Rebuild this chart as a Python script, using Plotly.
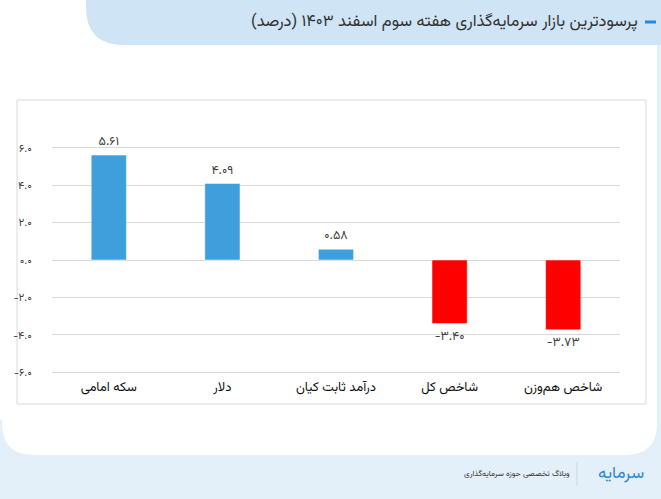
import plotly.graph_objects as go

# ---------------- data ----------------
categories = ["سکه امامی", "دلار", "درآمد ثابت کیان", "شاخص کل", "شاخص هم‌وزن"]
values = [5.61, 4.09, 0.58, -3.40, -3.73]
value_labels = ["۵.۶۱", "۴.۰۹", "۰.۵۸", "-۳.۴۰", "-۳.۷۳"]
tick_values = [-6, -4, -2, 0, 2, 4, 6]
tick_labels = ["-۶.۰", "-۴.۰", "-۲.۰", "۰.۰", "۲.۰", "۴.۰", "۶.۰"]
title_text = "پرسودترین بازار سرمایه‌گذاری هفته سوم اسفند ۱۴۰۳ (درصد)"
footer_text = "وبلاگ تخصصی حوزه سرمایه‌گذاری"
logo_text = "سرمایه"

W, H = 661, 499
L, R, T, B = 52, 620, 145, 375  # plot area in px

def px(x):
    return (x - L) / (R - L)

def py(y):
    return (B - y) / (B - T)

colors = ["#3f9fdc" if v >= 0 else "#ff0000" for v in values]
positions = ["outside"] * len(values)

FONT = "Vazirmatn, 'Noto Sans', 'DejaVu Sans', sans-serif"

fig = go.Figure()
fig.add_trace(go.Bar(
    x=categories, y=values, marker=dict(color=colors, line=dict(color="white", width=0.5)),
    text=value_labels, textposition=positions, texttemplate="%{text}",
    textfont=dict(size=12.5, color="#404040", family=FONT),
    cliponaxis=False, hoverinfo="skip",
))

header_col = "#cfe4f5"
footer_col = "#e3eff9"

shapes = []
shapes.append(dict(type="rect", xref="paper", yref="paper", x0=px(0), x1=px(W), y0=py(420), y1=py(H),
                   fillcolor=footer_col, line=dict(width=0), layer="below"))
shapes.append(dict(type="rect", xref="paper", yref="paper", x0=px(656), x1=px(W), y0=py(45), y1=py(460),
                   fillcolor=footer_col, line=dict(width=0), layer="below"))
r = 32
card = (f"M {px(2)},{py(45)} L {px(657)},{py(45)} L {px(657)},{py(455-r)} "
        f"Q {px(657)},{py(455)} {px(657-r)},{py(455)} L {px(2+r)},{py(455)} "
        f"Q {px(2)},{py(455)} {px(2)},{py(455-r)} Z")
shapes.append(dict(type="path", xref="paper", yref="paper", path=card,
                   fillcolor="white", line=dict(width=0), layer="below"))
hr = 38
head = (f"M {px(86)},{py(0)} L {px(W)},{py(0)} L {px(W)},{py(45)} L {px(86+hr)},{py(45)} "
        f"Q {px(86)},{py(45)} {px(86)},{py(45-hr)} Z")
shapes.append(dict(type="path", xref="paper", yref="paper", path=head,
                   fillcolor=header_col, line=dict(width=0), layer="below"))
shapes.append(dict(type="line", xref="paper", yref="paper", x0=px(645), x1=px(656), y0=py(22), y1=py(22),
                   line=dict(color="#2b8ad8", width=3)))
shapes.append(dict(type="rect", xref="paper", yref="paper", x0=px(17), x1=px(646), y0=py(100), y1=py(404),
                   fillcolor="rgba(0,0,0,0)", line=dict(color="#d9d9d9", width=1), layer="below"))
shapes.append(dict(type="line", xref="paper", yref="paper", x0=px(577), x1=px(577), y0=py(462), y1=py(486),
                   line=dict(color="#c8d8e6", width=1)))

annotations = [
    dict(text=title_text, xref="paper", yref="paper", x=px(640), y=py(22), xanchor="right", yanchor="middle",
         showarrow=False, font=dict(size=16.5, color="#333333", family=FONT)),
    dict(text=footer_text, xref="paper", yref="paper", x=px(572), y=py(474), xanchor="right", yanchor="middle",
         showarrow=False, font=dict(size=8, color="#333333", family=FONT)),
    dict(text=logo_text, xref="paper", yref="paper", x=px(646), y=py(474), xanchor="right", yanchor="middle",
         showarrow=False, font=dict(size=17, color="#2b8ad8", family=FONT)),
]

fig.update_layout(
    width=W, height=H,
    margin=dict(l=L, r=W - R, t=T, b=H - B, pad=0),
    paper_bgcolor="white", plot_bgcolor="rgba(0,0,0,0)",
    bargap=0.69, showlegend=False,
    shapes=shapes, annotations=annotations,
    font=dict(family=FONT, color="#404040"),
)
fig.update_xaxes(showgrid=False, showline=False, zeroline=False, ticks="", ticklabelstandoff=2,
                 tickfont=dict(size=13, color="#111111", family=FONT))
fig.update_yaxes(range=[-6.15, 6.15], tickvals=tick_values, ticktext=tick_labels,
                 showgrid=True, gridcolor="#d9d9d9", gridwidth=1, zeroline=True, zerolinecolor="#d9d9d9",
                 zerolinewidth=1, showline=False, ticks="", ticklabelstandoff=19,
                 tickfont=dict(size=11, color="#404040", family=FONT))

fig.write_html("out.html")
